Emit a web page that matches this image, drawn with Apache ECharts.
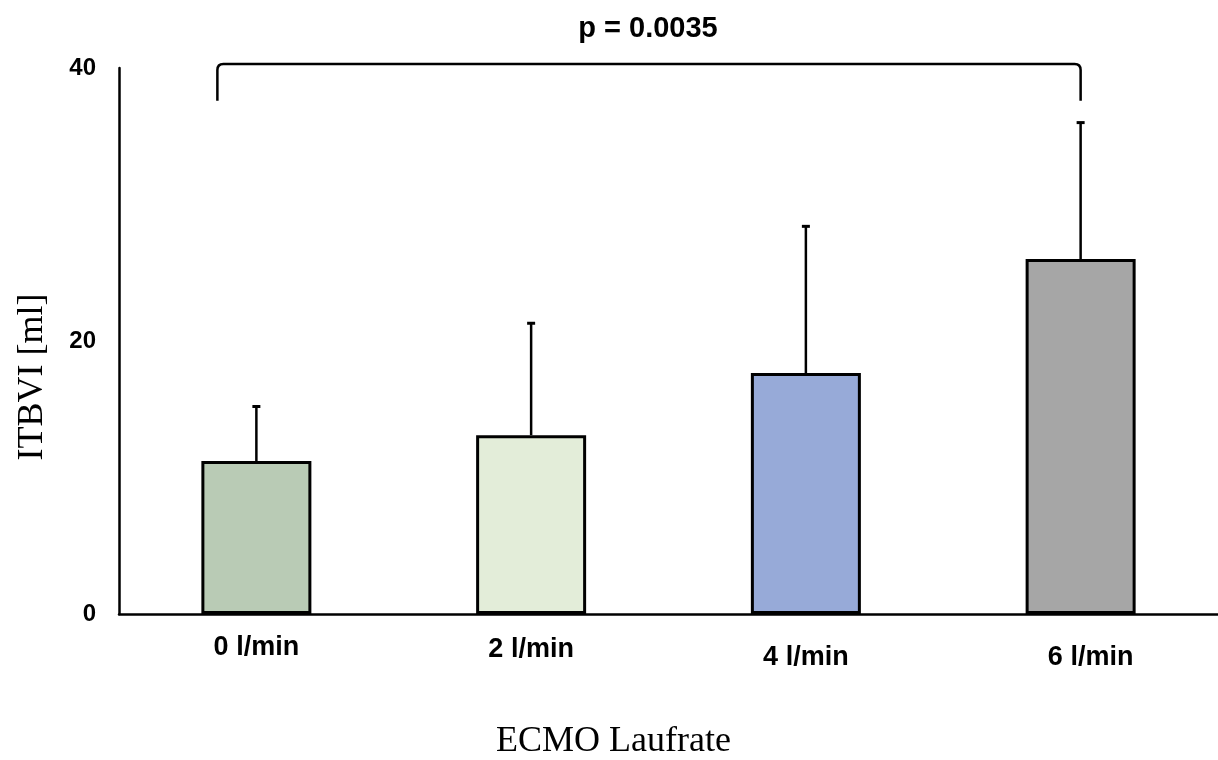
<!DOCTYPE html>
<html>
<head>
<meta charset="utf-8">
<style>
  html, body { margin: 0; padding: 0; background: #fff; }
  #chart { width: 1218px; height: 760px; }
</style>
<script src="https://cdn.jsdelivr.net/npm/echarts@6/dist/echarts.min.js"></script>
</head>
<body>
<div id="chart"></div>
<script>
var categories = ['0 l/min', '2 l/min', '4 l/min', '6 l/min'];
var means = [11.2, 13.1, 17.65, 26.0];
var errTops = [15.2, 21.3, 28.4, 36.0];
var barColors = ['#b9cbb5', '#e3edd9', '#97aad8', '#a6a6a6'];
var yTicks = [0, 20, 40];
var pText = 'p = 0.0035';
// bracket from first to last group: top value, leg end value
var bracket = { from: 0, to: 3, top: 40.3, leg: 37.6 };
// small per-label nudges seen in the original (top, left)
var labelPad = [[0, 0], [2, 0], [10, 0], [10, 20]];

(function() {
    var chart = echarts.init(document.getElementById('chart'));

    var option = {
        animation: false,
        title: {
            text: pText,
            left: 643,
            top: 9,
            textAlign: 'center',
            textStyle: { fontFamily: 'Liberation Sans', fontWeight: 'bold', fontSize: 29, color: '#000' }
        },
        grid: { left: 119, right: 0, top: 68, bottom: 146, outerBoundsMode: 'none', containLabel: false },
        xAxis: {
            type: 'category',
            data: categories.map(function(c, i) {
                return { value: c, textStyle: { padding: [labelPad[i][0], 0, 0, labelPad[i][1]] } };
            }),
            name: 'ECMO Laufrate',
            nameLocation: 'middle',
            nameGap: 110,
            nameTextStyle: { fontFamily: 'Liberation Serif', fontSize: 36, color: '#000', padding: [0, 110, 0, 0] },
            axisLine: { lineStyle: { color: '#000', width: 2.5 } },
            axisTick: { show: false },
            axisLabel: {
                margin: 20,
                fontFamily: 'Liberation Sans',
                fontWeight: 'bold',
                fontSize: 27,
                color: '#000'
            }
        },
        yAxis: {
            type: 'value',
            min: yTicks[0],
            max: yTicks[yTicks.length - 1],
            interval: 20,
            name: 'ITBVI [ml]',
            nameLocation: 'middle',
            nameGap: 68,
            nameTextStyle: { fontFamily: 'Liberation Serif', fontSize: 36, color: '#000', padding: [0, 72, 0, 0] },
            axisLine: { show: true, lineStyle: { color: '#000', width: 2.5 } },
            axisTick: { show: false },
            splitLine: { show: false },
            axisLabel: {
                margin: 23,
                fontFamily: 'Liberation Sans',
                fontWeight: 'bold',
                fontSize: 24,
                color: '#000'
            }
        },
        series: [
            {
                type: 'bar',
                barWidth: 110,
                data: means.map(function(v, i) {
                    return { value: v, itemStyle: { color: barColors[i] } };
                }),
                itemStyle: { borderColor: '#000', borderWidth: 3 },
                z: 2
            },
            {
                type: 'custom',
                z: 3,
                data: means.map(function(v, i) { return [i, v, errTops[i]]; }),
                renderItem: function(params, api) {
                    var base = api.coord([api.value(0), api.value(1)]);
                    var top = api.coord([api.value(0), api.value(2)]);
                    var capW = 4;
                    var style = { stroke: '#000', lineWidth: 2.5 };
                    return {
                        type: 'group',
                        children: [
                            { type: 'line', shape: { x1: base[0], y1: base[1], x2: top[0], y2: top[1] }, style: style },
                            { type: 'line', shape: { x1: top[0] - capW, y1: top[1], x2: top[0] + capW, y2: top[1] }, style: { stroke: '#000', lineWidth: 3 } }
                        ]
                    };
                }
            },
            {
                type: 'custom',
                z: 3,
                data: [[bracket.from, bracket.to, bracket.top, bracket.leg]],
                renderItem: function(params, api) {
                    var a = api.coord([api.value(0), api.value(2)]);
                    var b = api.coord([api.value(1), api.value(2)]);
                    var leg = api.coord([api.value(0), api.value(3)]);
                    var x1 = a[0] - 39, x2 = b[0], y = a[1], y2 = leg[1], r = 6;
                    return {
                        type: 'path',
                        shape: {
                            pathData: 'M' + x1 + ' ' + y2 + ' L' + x1 + ' ' + (y + r) +
                                ' Q' + x1 + ' ' + y + ' ' + (x1 + r) + ' ' + y +
                                ' L' + (x2 - r) + ' ' + y +
                                ' Q' + x2 + ' ' + y + ' ' + x2 + ' ' + (y + r) +
                                ' L' + x2 + ' ' + y2
                        },
                        style: { fill: null, stroke: '#000', lineWidth: 2.5 }
                    };
                }
            }
        ]
    };

    chart.setOption(option);
    window.addEventListener('resize', function() {
        chart.resize();
    });
})();
</script>
</body>
</html>
